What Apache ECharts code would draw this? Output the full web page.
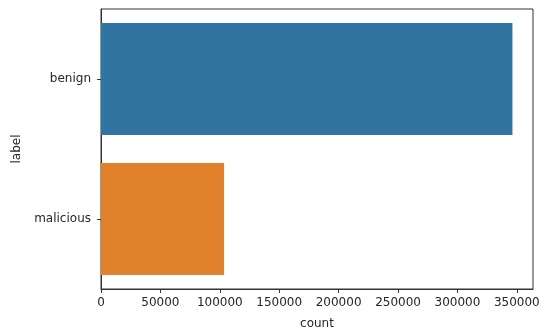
<!DOCTYPE html>
<html>
<head>
<meta charset="utf-8">
<script src="https://cdn.jsdelivr.net/npm/echarts@6/dist/echarts.min.js"></script>
<style>
  html, body { margin: 0; padding: 0; background: #fff; }
  #chart { width: 550px; height: 336px; }
</style>
</head>
<body>
<div id="chart"></div>
<script>
// counts per label
const categories = ["benign", "malicious"];
const counts = [346300, 103600];
const barColors = ["#3274a1", "#e1812c"];
const xTicks = [0, 50000, 100000, 150000, 200000, 250000, 300000, 350000];

const chart = echarts.init(document.getElementById("chart"));
const textStyle = { fontFamily: "DejaVu Sans", fontSize: 12, color: "#262626" };

chart.setOption({
  animation: false,
  grid: {
    left: 101, right: 17, top: 9, bottom: 47,
    outerBoundsMode: "none",
    containLabel: false,
    show: true, borderColor: "#333", borderWidth: 1, backgroundColor: "#fff"
  },
  xAxis: {
    type: "value",
    min: 0,
    max: 363600,
    interval: 50000,
    name: "count",
    nameLocation: "middle",
    nameGap: 29,
    nameTextStyle: textStyle,
    axisLine: { show: true, lineStyle: { color: "#333" } },
    axisTick: { show: true, length: 4, lineStyle: { color: "#333" } },
    axisLabel: Object.assign({ margin: 8, showMaxLabel: false,
      formatter: v => xTicks.includes(v) ? String(v) : "" }, textStyle),
    splitLine: { show: false }
  },
  yAxis: {
    type: "category",
    inverse: true,
    data: categories,
    name: "label",
    nameLocation: "middle",
    nameGap: 78,
    nameRotate: 90,
    nameTextStyle: textStyle,
    axisLine: { show: true, lineStyle: { color: "#333" } },
    axisTick: { show: true, length: 4, alignWithLabel: true, lineStyle: { color: "#333" } },
    axisLabel: Object.assign({ margin: 10 }, textStyle),
    splitLine: { show: false }
  },
  series: [{
    type: "bar",
    barCategoryGap: "20%",
    data: counts.map((v, i) => ({ value: v, itemStyle: { color: barColors[i] } }))
  }]
});
</script>
</body>
</html>
